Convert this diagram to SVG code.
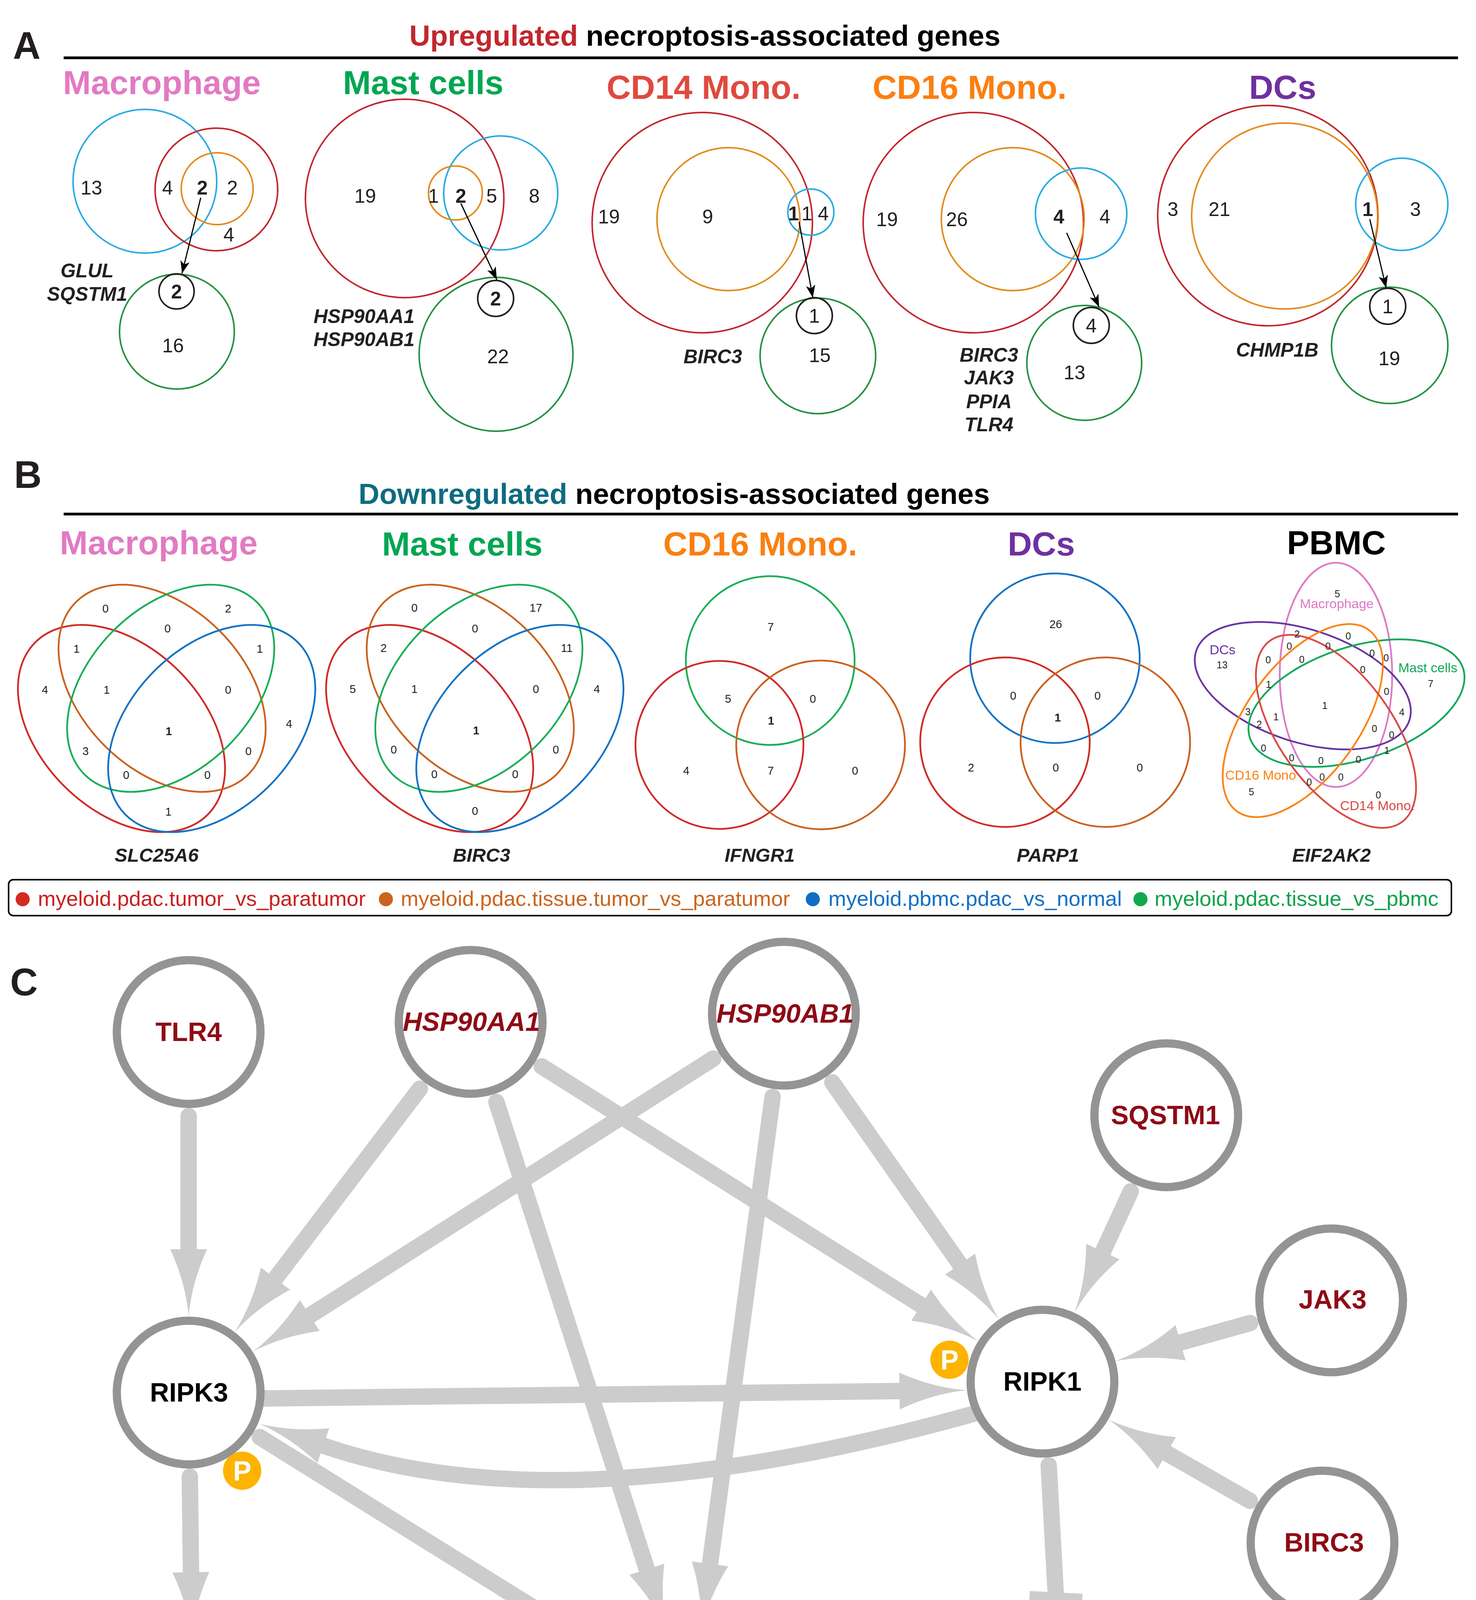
<svg xmlns="http://www.w3.org/2000/svg" xmlns:xlink="http://www.w3.org/1999/xlink" width="3779" height="5442" viewBox="0 0 3779 5442">
<style>
text{font-family:"Liberation Sans",Arial,sans-serif}
.b{font-weight:bold}
.i{font-style:italic}
.m{text-anchor:middle}
.ttl{font-weight:bold;font-size:86px}
.hd{font-weight:bold;font-size:74px}
.pl{font-weight:bold;font-size:98px;fill:#231f20}
.n{font-size:50px;text-anchor:middle;fill:#231f20}
.g{font-size:50px;font-weight:bold;font-style:italic;text-anchor:middle;fill:#231f20}
.gb{font-size:49px;font-weight:bold;font-style:italic;text-anchor:middle;fill:#231f20}
.vc{fill:none;stroke-width:4}
.s{font-size:29px;text-anchor:middle;fill:#231f20}
.p{font-size:25px;text-anchor:middle;fill:#231f20}
.pt{font-size:34px}
.lg{font-size:54.5px}
.e{fill:none;stroke:#cccccc;stroke-width:42;stroke-linecap:round}
.eb{fill:none;stroke:#cccccc;stroke-width:40;stroke-linecap:butt}
.ah{fill:#cccccc}
.nd{fill:#ffffff;stroke:#949494;stroke-width:21}
.nl{font-size:68px;font-weight:bold;text-anchor:middle;fill:#8e0b16}
.nk{fill:#000000}
.nb{fill:#0b5ed7}
.bx{fill:#ffffff;stroke:#cccccc;stroke-width:16}
.bt{font-size:58px;text-anchor:middle;fill:#111}
.pb{fill:#fdb300}
.ptx{font-size:70px;font-weight:bold;fill:#fff;text-anchor:middle}
.ar{stroke:#000;stroke-width:3;fill:none}
</style>
<defs>
<marker id="bk" markerUnits="userSpaceOnUse" markerWidth="34" markerHeight="26" refX="32" refY="13" orient="auto">
<path d="M0,1 L32,13 L0,25 L8,13 Z" fill="#000"/>
</marker>
<path id="ah" d="M0,0 Q-86,-7.5 -172,-47 L-172,47 Q-86,7.5 0,0 Z"/>
</defs>
<rect width="3779" height="5442" fill="#fff"/>

<!-- ================= Section A ================= -->
<g id="panelA">
<text class="pl" x="33" y="150" font-size="100">A</text>
<text class="hd" x="1048" y="117"><tspan fill="#c1272d">Upregulated</tspan><tspan fill="#000"> necroptosis-associated genes</tspan></text>
<line x1="163" y1="148" x2="3733" y2="148" stroke="#000" stroke-width="7"/>
</g>

<g id="A-macrophage">
<text class="ttl" x="161" y="241" fill="#e27ac3">Macrophage</text>
<circle class="vc" cx="371" cy="464" r="184" stroke="#29abe2"/>
<circle class="vc" cx="554" cy="485" r="157" stroke="#c1272d"/>
<circle class="vc" cx="556" cy="483" r="92" stroke="#e38a1c"/>
<circle class="vc" cx="453" cy="849" r="147" stroke="#23913f"/>
<circle class="vc" cx="452" cy="746" r="45" stroke="#231f20"/>
<text class="n" x="234" y="498">13</text>
<text class="n" x="429" y="498">4</text>
<text class="n b" x="518" y="498">2</text>
<text class="n" x="595" y="498">2</text>
<text class="n" x="586" y="618">4</text>
<text class="n b" x="452" y="764">2</text>
<text class="n" x="443" y="902">16</text>
<text class="g" x="223" y="710">GLUL</text>
<text class="g" x="223" y="770">SQSTM1</text>
<line class="ar" x1="514" y1="506" x2="466" y2="700" marker-end="url(#bk)"/>
</g>

<g id="A-mast">
<text class="ttl" x="878" y="241" fill="#00a651">Mast cells</text>
<circle class="vc" cx="1036" cy="508" r="254" stroke="#c1272d"/>
<circle class="vc" cx="1282" cy="494" r="146" stroke="#29abe2"/>
<circle class="vc" cx="1166" cy="494" r="69" stroke="#e38a1c"/>
<circle class="vc" cx="1270" cy="907" r="197" stroke="#23913f"/>
<circle class="vc" cx="1269" cy="764" r="46" stroke="#231f20"/>
<text class="n" x="935" y="519">19</text>
<text class="n" x="1110" y="519">1</text>
<text class="n b" x="1180" y="519">2</text>
<text class="n" x="1259" y="519">5</text>
<text class="n" x="1368" y="519">8</text>
<text class="n b" x="1269" y="782">2</text>
<text class="n" x="1275" y="930">22</text>
<text class="g" x="932" y="827">HSP90AA1</text>
<text class="g" x="932" y="886">HSP90AB1</text>
<line class="ar" x1="1180" y1="521" x2="1272" y2="716" marker-end="url(#bk)"/>
</g>

<g id="A-cd14">
<text class="ttl" x="1553" y="253" fill="#e0493e">CD14 Mono.</text>
<circle class="vc" cx="1798" cy="570" r="282" stroke="#c1272d"/>
<circle class="vc" cx="1865" cy="561" r="183" stroke="#e38a1c"/>
<circle class="vc" cx="2076" cy="543" r="59" stroke="#29abe2"/>
<circle class="vc" cx="2094" cy="911" r="148" stroke="#23913f"/>
<circle class="vc" cx="2085" cy="808" r="46" stroke="#231f20"/>
<text class="n" x="1559" y="572">19</text>
<text class="n" x="1812" y="572">9</text>
<text class="n b" x="2032" y="564">1</text>
<text class="n" x="2066" y="564">1</text>
<text class="n" x="2108" y="564">4</text>
<text class="n" x="2085" y="826">1</text>
<text class="n" x="2099" y="927">15</text>
<text class="g" x="1825" y="930">BIRC3</text>
<line class="ar" x1="2046" y1="568" x2="2081" y2="762" marker-end="url(#bk)"/>
</g>

<g id="A-cd16">
<text class="ttl" x="2234" y="253" fill="#fb7f12">CD16 Mono.</text>
<circle class="vc" cx="2492" cy="570" r="282" stroke="#c1272d"/>
<circle class="vc" cx="2593" cy="561" r="183" stroke="#e38a1c"/>
<circle class="vc" cx="2768" cy="547" r="117" stroke="#29abe2"/>
<circle class="vc" cx="2776" cy="929" r="147" stroke="#23913f"/>
<circle class="vc" cx="2794" cy="833" r="46" stroke="#231f20"/>
<text class="n" x="2271" y="579">19</text>
<text class="n" x="2450" y="579">26</text>
<text class="n b" x="2711" y="572">4</text>
<text class="n" x="2829" y="572">4</text>
<text class="n" x="2794" y="851">4</text>
<text class="n" x="2751" y="971">13</text>
<text class="g" x="2532" y="926">BIRC3</text>
<text class="g" x="2532" y="984">JAK3</text>
<text class="g" x="2532" y="1045">PPIA</text>
<text class="g" x="2532" y="1104">TLR4</text>
<line class="ar" x1="2731" y1="596" x2="2814" y2="786" marker-end="url(#bk)"/>
</g>

<g id="A-dcs">
<text class="ttl" x="3198" y="253" fill="#7030a0">DCs</text>
<circle class="vc" cx="3246" cy="552" r="282" stroke="#c1272d"/>
<circle class="vc" cx="3289" cy="553" r="238" stroke="#e38a1c"/>
<circle class="vc" cx="3589" cy="523" r="118" stroke="#29abe2"/>
<circle class="vc" cx="3558" cy="884" r="149" stroke="#23913f"/>
<circle class="vc" cx="3553" cy="784" r="46" stroke="#231f20"/>
<text class="n" x="3003" y="553">3</text>
<text class="n" x="3122" y="553">21</text>
<text class="n b" x="3502" y="553">1</text>
<text class="n" x="3624" y="553">3</text>
<text class="n" x="3553" y="802">1</text>
<text class="n" x="3557" y="935">19</text>
<text class="g" x="3270" y="913">CHMP1B</text>
<line class="ar" x1="3507" y1="561" x2="3549" y2="737" marker-end="url(#bk)"/>
</g>

<!-- ================= Section B ================= -->
<g id="panelB">
<text class="pl" x="36" y="1249" font-size="92">B</text>
<text class="hd" x="918" y="1290"><tspan fill="#0f6b80">Downregulated</tspan><tspan fill="#000"> necroptosis-associated genes</tspan></text>
<line x1="163" y1="1316" x2="3733" y2="1316" stroke="#000" stroke-width="7"/>
</g>

<g id="B-macrophage">
<text class="ttl" x="153" y="1419" fill="#e27ac3">Macrophage</text>
<g fill="none" stroke-width="4.5">
<ellipse cx="0" cy="0" rx="312" ry="208" transform="translate(311 1865) rotate(45)" stroke="#d02b27"/>
<ellipse cx="0" cy="0" rx="312" ry="208" transform="translate(415 1762) rotate(45)" stroke="#c9621f"/>
<ellipse cx="0" cy="0" rx="312" ry="208" transform="translate(437 1762) rotate(-45)" stroke="#1aae55"/>
<ellipse cx="0" cy="0" rx="312" ry="208" transform="translate(542 1865) rotate(-45)" stroke="#1272c4"/>
</g>
<text class="s" x="270" y="1568">0</text>
<text class="s" x="584" y="1568">2</text>
<text class="s" x="429" y="1619">0</text>
<text class="s" x="196" y="1671">1</text>
<text class="s" x="665" y="1671">1</text>
<text class="s" x="115" y="1776">4</text>
<text class="s" x="273" y="1776">1</text>
<text class="s" x="584" y="1776">0</text>
<text class="s" x="740" y="1863">4</text>
<text class="s b" x="432" y="1882" font-size="40">1</text>
<text class="s" x="219" y="1933">3</text>
<text class="s" x="636" y="1933">0</text>
<text class="s" x="323" y="1994">0</text>
<text class="s" x="531" y="1994">0</text>
<text class="s" x="431" y="2088">1</text>
<text class="gb" x="401" y="2206">SLC25A6</text>
</g>

<g id="B-mast">
<text class="ttl" x="978" y="1422" fill="#00a651">Mast cells</text>
<g fill="none" stroke-width="4.5">
<ellipse cx="0" cy="0" rx="312" ry="208" transform="translate(1100 1865) rotate(45)" stroke="#d02b27"/>
<ellipse cx="0" cy="0" rx="312" ry="208" transform="translate(1204 1762) rotate(45)" stroke="#c9621f"/>
<ellipse cx="0" cy="0" rx="312" ry="208" transform="translate(1226 1762) rotate(-45)" stroke="#1aae55"/>
<ellipse cx="0" cy="0" rx="312" ry="208" transform="translate(1331 1865) rotate(-45)" stroke="#1272c4"/>
</g>
<text class="s" x="1061" y="1566">0</text>
<text class="s" x="1372" y="1566">17</text>
<text class="s" x="1216" y="1619">0</text>
<text class="s" x="982" y="1669">2</text>
<text class="s" x="1451" y="1669">11</text>
<text class="s" x="903" y="1774">5</text>
<text class="s" x="1061" y="1774">1</text>
<text class="s" x="1372" y="1774">0</text>
<text class="s" x="1528" y="1774">4</text>
<text class="s b" x="1219" y="1880" font-size="40">1</text>
<text class="s" x="1008" y="1929">0</text>
<text class="s" x="1423" y="1929">0</text>
<text class="s" x="1112" y="1992">0</text>
<text class="s" x="1319" y="1992">0</text>
<text class="s" x="1216" y="2086">0</text>
<text class="gb" x="1233" y="2206">BIRC3</text>
</g>

<g id="B-cd16">
<text class="ttl" x="1698" y="1422" fill="#fb7f12">CD16 Mono.</text>
<g fill="none" stroke-width="4.5">
<circle cx="1972" cy="1691" r="216" stroke="#1aae55"/>
<circle cx="1842" cy="1907" r="215" stroke="#d02b27"/>
<circle cx="2101" cy="1907" r="216" stroke="#c9621f"/>
</g>
<text class="s" x="1973" y="1615">7</text>
<text class="s" x="1864" y="1799">5</text>
<text class="s" x="2081" y="1799">0</text>
<text class="s b" x="1974" y="1855" font-size="40">1</text>
<text class="s" x="1757" y="1983">4</text>
<text class="s" x="1973" y="1983">7</text>
<text class="s" x="2189" y="1983">0</text>
<text class="gb" x="1945" y="2206">IFNGR1</text>
</g>

<g id="B-dcs">
<text class="ttl" x="2580" y="1422" fill="#7030a0">DCs</text>
<g fill="none" stroke-width="4.5">
<circle cx="2701" cy="1685" r="217" stroke="#1272c4"/>
<circle cx="2573" cy="1900" r="217" stroke="#d02b27"/>
<circle cx="2830" cy="1900" r="217" stroke="#c9621f"/>
</g>
<text class="s" x="2703" y="1608">26</text>
<text class="s" x="2594" y="1791">0</text>
<text class="s" x="2810" y="1791">0</text>
<text class="s b" x="2708" y="1847" font-size="40">1</text>
<text class="s" x="2486" y="1975">2</text>
<text class="s" x="2703" y="1975">0</text>
<text class="s" x="2918" y="1975">0</text>
<text class="gb" x="2683" y="2206">PARP1</text>
</g>

<g id="B-pbmc">
<text class="ttl" x="3295" y="1419" fill="#000">PBMC</text>
<g fill="none" stroke-width="4.5" transform="translate(3397 1800)">
<ellipse cx="0" cy="0" rx="287" ry="144" transform="rotate(-72) translate(76 0) rotate(162)" stroke="#dd7bc8"/>
<ellipse cx="0" cy="0" rx="287" ry="144" transform="rotate(-144) translate(76 0) rotate(162)" stroke="#6b34a3"/>
<ellipse cx="0" cy="0" rx="287" ry="144" transform="rotate(0) translate(76 0) rotate(162)" stroke="#11a85a"/>
<ellipse cx="0" cy="0" rx="287" ry="144" transform="rotate(144) translate(76 0) rotate(162)" stroke="#fb8412"/>
<ellipse cx="0" cy="0" rx="287" ry="144" transform="rotate(72) translate(76 0) rotate(162)" stroke="#d94a43"/>
</g>
<text class="pt" x="3328" y="1557" fill="#dd7bc8">Macrophage</text>
<text class="pt" x="3097" y="1675" fill="#6b34a3">DCs</text>
<text class="pt" x="3580" y="1721" fill="#11a85a">Mast cells</text>
<text class="pt" x="3137" y="1996" fill="#fb8412">CD16 Mono</text>
<text class="pt" x="3431" y="2074" fill="#d94a43">CD14 Mono.</text>
<text class="p" x="3424" y="1529">5</text>
<text class="p" x="3321" y="1632">2</text>
<text class="p" x="3452" y="1637">0</text>
<text class="p" x="3301" y="1663">0</text>
<text class="p" x="3400" y="1663">0</text>
<text class="p" x="3129" y="1711">13</text>
<text class="p" x="3247" y="1698">0</text>
<text class="p" x="3333" y="1697">0</text>
<text class="p" x="3513" y="1681">0</text>
<text class="p" x="3549" y="1693">0</text>
<text class="p" x="3489" y="1723">0</text>
<text class="p" x="3663" y="1759">7</text>
<text class="p" x="3248" y="1761">1</text>
<text class="p" x="3550" y="1779">0</text>
<text class="p" x="3392" y="1815" font-size="38">1</text>
<text class="p" x="3195" y="1831">3</text>
<text class="p" x="3589" y="1832">4</text>
<text class="p" x="3267" y="1844">1</text>
<text class="p" x="3224" y="1863">2</text>
<text class="p" x="3519" y="1874">0</text>
<text class="p" x="3563" y="1890">0</text>
<text class="p" x="3235" y="1924">0</text>
<text class="p" x="3551" y="1930">1</text>
<text class="p" x="3307" y="1949">0</text>
<text class="p" x="3382" y="1956">0</text>
<text class="p" x="3478" y="1953">0</text>
<text class="p" x="3385" y="1998">0</text>
<text class="p" x="3433" y="1998">0</text>
<text class="p" x="3352" y="2011">0</text>
<text class="p" x="3204" y="2036">5</text>
<text class="p" x="3529" y="2044">0</text>
<text class="gb" x="3409" y="2206">EIF2AK2</text>
</g>

<g id="legend">
<rect x="22" y="2252" width="3694" height="92" rx="12" fill="none" stroke="#000" stroke-width="4"/>
<circle cx="58" cy="2302" r="18" fill="#d42a20"/>
<text class="lg" x="97" y="2319" fill="#c8201e">myeloid.pdac.tumor_vs_paratumor</text>
<circle cx="988" cy="2302" r="18" fill="#cc6420"/>
<text class="lg" x="1026" y="2319" fill="#c8651e">myeloid.pdac.tissue.tumor_vs_paratumor</text>
<circle cx="2081" cy="2302" r="18" fill="#0e6fc1"/>
<text class="lg" x="2121" y="2319" fill="#1170c4">myeloid.pbmc.pdac_vs_normal</text>
<circle cx="2920" cy="2302" r="18" fill="#13a84e"/>
<text class="lg" x="2956" y="2319" fill="#10a24b">myeloid.pdac.tissue_vs_pbmc</text>
</g>

<!-- ================= Section C ================= -->
<text class="pl" x="26" y="2548" font-size="95">C</text>

<g id="connectors">
<line class="e" x1="483" y1="2857" x2="483" y2="3198"/>
<use xlink:href="#ah" class="ah" transform="translate(483 3370) rotate(90)"/>
<line class="e" x1="1075" y1="2787" x2="705" y2="3273"/>
<use xlink:href="#ah" class="ah" transform="translate(601 3410) rotate(127.3)"/>
<line class="e" x1="1826" y1="2710" x2="793" y2="3368"/>
<use xlink:href="#ah" class="ah" transform="translate(648 3460) rotate(147.5)"/>
<line class="e" x1="1271" y1="2821" x2="1656" y2="4017"/>
<use xlink:href="#ah" class="ah" transform="translate(1709 4181) rotate(72.1)"/>
<line class="e" x1="1387" y1="2730" x2="2358" y2="3341"/>
<use xlink:href="#ah" class="ah" transform="translate(2504 3433) rotate(32.2)"/>
<line class="e" x1="1978" y1="2808" x2="1818" y2="4003"/>
<use xlink:href="#ah" class="ah" transform="translate(1795 4174) rotate(97.65)"/>
<line class="e" x1="2131" y1="2771" x2="2458" y2="3237"/>
<use xlink:href="#ah" class="ah" transform="translate(2557 3377) rotate(54.9)"/>
<line class="e" x1="2895" y1="3050" x2="2824" y2="3204"/>
<use xlink:href="#ah" class="ah" transform="translate(2751 3360) rotate(114.9)"/>
<line class="e" x1="3201" y1="3387" x2="3022" y2="3437"/>
<use xlink:href="#ah" class="ah" transform="translate(2857 3484) rotate(164.3)"/>
<line class="e" x1="3200" y1="3842" x2="2987" y2="3720"/>
<use xlink:href="#ah" class="ah" transform="translate(2838 3634) rotate(209.9)"/>
<line class="e" x1="600" y1="3581" x2="2303" y2="3561" stroke-width="44"/>
<use xlink:href="#ah" class="ah" transform="translate(2475 3559) rotate(-0.67)"/>
<path class="e" d="M2498,3618 Q1443,3912 828,3701" stroke-width="46"/>
<use xlink:href="#ah" class="ah" transform="translate(665 3645) rotate(198.9)"/>
<line class="e" x1="486" y1="3780" x2="489" y2="4025"/>
<use xlink:href="#ah" class="ah" transform="translate(491 4197) rotate(89.2)"/>
<line class="e" x1="665" y1="3679" x2="1458" y2="4173"/>
<use xlink:href="#ah" class="ah" transform="translate(1604 4264) rotate(31.95)"/>
<line class="e" x1="2685" y1="3751" x2="2703" y2="4080" stroke-width="40"/>
<rect x="-67.5" y="-20.5" width="135" height="41" fill="#cccccc" transform="translate(2703 4097) rotate(3)"/>
<line class="eb" x1="489" y1="4616" x2="492" y2="4880"/>
<use xlink:href="#ah" class="ah" transform="translate(494 5050) rotate(89.3)"/>
<line class="eb" x1="1772" y1="4604" x2="1775" y2="4838"/>
<use xlink:href="#ah" class="ah" transform="translate(1776 5008) rotate(89.4)"/>
<line class="eb" x1="2736" y1="4557" x2="2741" y2="4875"/>
<use xlink:href="#ah" class="ah" transform="translate(2743 5045) rotate(89.4)"/>
</g>

<g id="n-tlr4"><circle class="nd" cx="483" cy="2642" r="184"/><text class="nl" x="483" y="2665">TLR4</text></g>
<g id="n-hsp90aa1"><circle class="nd" cx="1205" cy="2616" r="184"/><text class="nl i" x="1207" y="2639">HSP90AA1</text></g>
<g id="n-hsp90ab1"><circle class="nd" cx="2007" cy="2595" r="184"/><text class="nl i" x="2010" y="2618">HSP90AB1</text></g>
<g id="n-sqstm1"><circle class="nd" cx="2986" cy="2855" r="184"/><text class="nl" x="2984" y="2878">SQSTM1</text></g>
<g id="n-jak3"><circle class="nd" cx="3408" cy="3329" r="184"/><text class="nl" x="3412" y="3350">JAK3</text></g>
<g id="n-ripk3"><circle class="nd" cx="483" cy="3565" r="184"/><text class="nl nk" x="484" y="3588">RIPK3</text></g>
<g id="n-ripk1"><circle class="nd" cx="2669" cy="3537" r="184"/><text class="nl nk" x="2669" y="3560">RIPK1</text></g>
<g id="n-birc3"><circle class="nd" cx="3386" cy="3949" r="184"/><text class="nl" x="3390" y="3972">BIRC3</text></g>
<g id="n-glul"><circle class="nd" cx="494" cy="4392" r="184"/><text class="nl" x="492" y="4410">GLUL</text></g>
<g id="n-mlkl"><circle class="nd" cx="1769" cy="4367" r="184"/><text class="nl nk" x="1776" y="4390">MLKL</text></g>
<g id="n-slc25a6"><circle class="nd" cx="2729" cy="4331" r="184"/><text class="nl nb" x="2732" y="4353">SLC25A6</text></g>

<g id="p-ripk3"><circle class="pb" cx="620" cy="3765" r="49"/><text class="ptx" x="620" y="3790">P</text></g>
<g id="p-ripk1"><circle class="pb" cx="2431" cy="3481" r="49"/><text class="ptx" x="2431" y="3506">P</text></g>
<g id="p-glul"><circle class="pb" cx="639" cy="4185" r="49"/><text class="ptx" x="639" y="4210">P</text></g>
<g id="p-mlkl"><circle class="pb" cx="1902" cy="4164" r="49"/><text class="ptx" x="1902" y="4189">P</text></g>

<g id="box1"><rect class="bx" x="280" y="5065" width="760" height="227"/>
<text class="bt" x="660" y="5163">Increased lysosome</text>
<text class="bt" x="660" y="5231">membrane permeabilization</text></g>
<g id="box2"><rect class="bx" x="1285" y="5021" width="965" height="266"/>
<text class="bt" x="1767" y="5108">Mitochondrial fission facilitates</text>
<text class="bt" x="1767" y="5176">the proliferation, metastasis,</text>
<text class="bt" x="1767" y="5244">and drug resistance of cancer cells</text></g>
<g id="box3"><rect class="bx" x="2351" y="5059" width="950" height="228"/>
<text class="bt" x="2826" y="5159">Transiently increased mitochondrial</text>
<text class="bt" x="2826" y="5227">transmembrane potential</text></g>
</svg>
